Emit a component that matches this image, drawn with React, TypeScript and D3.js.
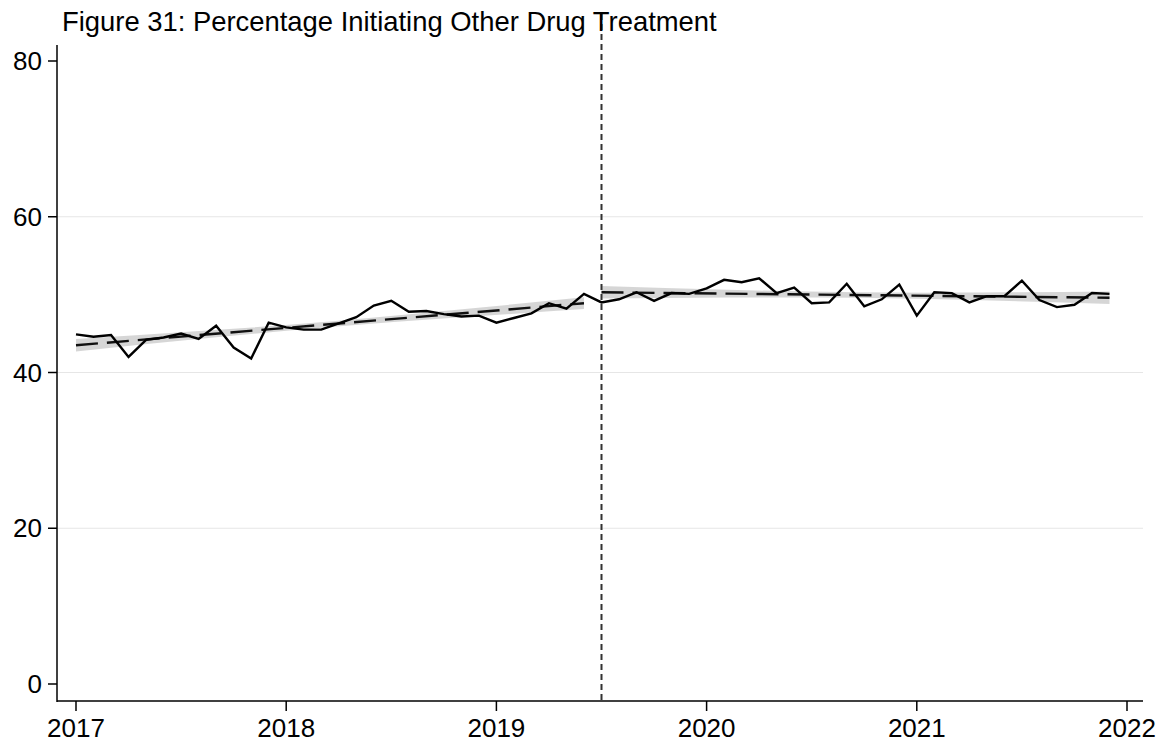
import React from "react";
import * as d3 from "d3";

const title = "Figure 31: Percentage Initiating Other Drug Treatment";
const yTicks = [0, 20, 40, 60, 80];
const yGrid = [20, 40, 60];
const xTicks = [2017, 2018, 2019, 2020, 2021, 2022];
const startYear = 2017;
const cutoff = 2019.5;

// Monthly percentages, Jan 2017 .. Dec 2021
const values = [
  44.9, 44.6, 44.8, 42.0, 44.2, 44.5, 45.0, 44.3, 46.0, 43.2, 41.8, 46.4,
  45.8, 45.5, 45.5, 46.3, 47.1, 48.6, 49.2, 47.8, 47.9, 47.5, 47.2, 47.3,
  46.4, 47.0, 47.6, 48.9, 48.2, 50.1, 49.0, 49.4, 50.3, 49.2, 50.2, 50.1,
  50.8, 51.9, 51.6, 52.1, 50.2, 50.9, 48.9, 49.0, 51.4, 48.5, 49.4, 51.3,
  47.3, 50.3, 50.2, 49.0, 49.8, 49.8, 51.8, 49.3, 48.4, 48.7, 50.2, 50.1,
];

// Fitted trend lines (start, end) and CI half-widths along each segment
const preFit = [43.5, 48.9];
const postFit = [50.3, 49.6];
const preCI = [0.8, 0.5, 0.35, 0.5, 0.75];
const postCI = [0.8, 0.5, 0.35, 0.5, 0.8];
const preRange = [0, 29];
const postRange = [30, 59];

const W = 1161;
const H = 742;
const font = "'Liberation Sans', Arial, Helvetica, sans-serif";

export default function App() {
  const x = d3.scaleLinear().domain([2017, 2022]).range([76, 1127]);
  const y = d3.scaleLinear().domain([0, 80]).range([684, 61]);
  const mx = (i: number) => x(startYear + i / 12);

  const line = d3
    .line<number>()
    .x((_, i) => mx(i))
    .y((d) => y(d));

  const fitSeg = (range: number[], fit: number[], ci: number[]) => {
    const [i0, i1] = range;
    const n = ci.length;
    const pts = ci.map((h, k) => {
      const t = k / (n - 1);
      const xi = i0 + t * (i1 - i0);
      const v = fit[0] + t * (fit[1] - fit[0]);
      return { x: mx(xi), lo: v - h, hi: v + h };
    });
    const area = d3
      .area<{ x: number; lo: number; hi: number }>()
      .x((d) => d.x)
      .y0((d) => y(d.lo))
      .y1((d) => y(d.hi))
      .curve(d3.curveNatural);
    return (
      <g>
        <path d={area(pts) || ""} fill="#cfcfcf" opacity={0.85} />
        <line
          x1={mx(i0)}
          x2={mx(i1)}
          y1={y(fit[0])}
          y2={y(fit[1])}
          stroke="#111"
          strokeWidth={2.4}
          strokeDasharray="22,9"
        />
      </g>
    );
  };

  return (
    <svg width={W} height={H} style={{ position: "absolute", left: 0, top: 0, background: "#fff" }}>
      <rect x={0} y={0} width={W} height={H} fill="#fff" />
      {yGrid.map((t) => (
        <line key={t} x1={57} x2={1143} y1={y(t)} y2={y(t)} stroke="#e6e6e6" strokeWidth={1} />
      ))}
      {fitSeg(preRange, preFit, preCI)}
      {fitSeg(postRange, postFit, postCI)}
      <path d={line(values) || ""} fill="none" stroke="#000" strokeWidth={2.4} strokeLinejoin="miter" />
      <line x1={x(cutoff)} x2={x(cutoff)} y1={14} y2={701} stroke="#333" strokeWidth={2} strokeDasharray="6,4" />
      {/* axes */}
      <line x1={57} x2={57} y1={45} y2={702} stroke="#000" strokeWidth={1.5} />
      <line x1={57} x2={1143} y1={701} y2={701} stroke="#000" strokeWidth={1.5} />
      {yTicks.map((t) => (
        <g key={t}>
          <line x1={48} x2={57} y1={y(t)} y2={y(t)} stroke="#000" strokeWidth={1.5} />
          <text x={42} y={y(t) + 9} textAnchor="end" fontFamily={font} fontSize={26} fill="#000">
            {t}
          </text>
        </g>
      ))}
      {xTicks.map((t) => (
        <g key={t}>
          <line x1={x(t)} x2={x(t)} y1={701} y2={711} stroke="#000" strokeWidth={1.5} />
          <text x={x(t)} y={737} textAnchor="middle" fontFamily={font} fontSize={26} fill="#000">
            {t}
          </text>
        </g>
      ))}
      <text x={62} y={31} fontFamily={font} fontSize={27.4} fill="#000">
        {title}
      </text>
    </svg>
  );
}
